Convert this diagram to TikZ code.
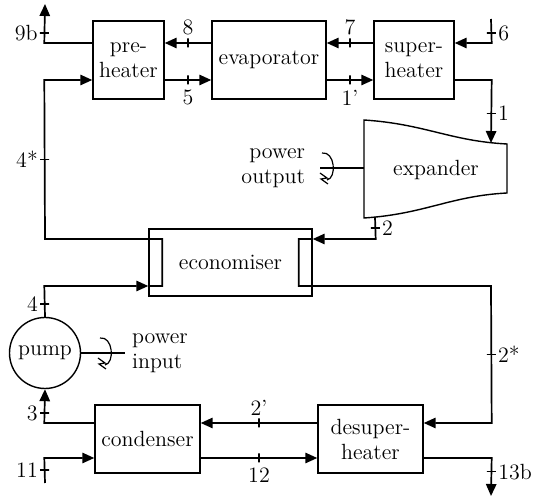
\documentclass[tikz,border=0pt]{standalone}
\usepackage{tikz}
\usetikzlibrary{arrows.meta,positioning,calc}
\newcommand{\spin}[1]{%
  \draw[line width=0.6pt, shift={(#1)}] (-4,-15) .. controls (9,-17) and (11,10) .. (1,12)
    (-6,5) -- (1,10) -- (-5,11) -- (2,16);}

\begin{document}
\begin{tikzpicture}[
    x=0.5pt, y=-0.5pt,
    font=\fontsize{11}{12.5}\selectfont,
    unit/.style={draw, line width=0.7pt, align=center, inner sep=1pt},
    flow/.style={line width=0.85pt, -{Triangle[length=6pt,width=5.2pt]}},
    pipe/.style={line width=0.85pt},
    vtick/.style={draw, line width=0.8pt, inner sep=0pt, minimum width=0pt, minimum height=4.5pt},
    htick/.style={draw, line width=0.8pt, inner sep=0pt, minimum width=4.5pt, minimum height=0pt},
    lbl/.style={inner sep=1pt},
]
    \useasboundingbox (0,0) rectangle (537,497);

    % Heat exchangers
    \node[unit, minimum width=35.5pt, minimum height=39pt] (pre) at (128.5,60) {pre-\\heater};
    \node[unit, minimum width=57pt, minimum height=39pt] (evap) at (269,60) {evaporator};
    \node[unit, minimum width=40pt, minimum height=39pt] (sup) at (414,60) {super-\\heater};
    \node[unit, minimum width=81.5pt, minimum height=33.5pt] (eco) at (230.5,262.5) {economiser};
    \node[unit, minimum width=52.5pt, minimum height=34pt] (cond) at (147.5,439) {condenser};
    \node[unit, minimum width=52.5pt, minimum height=34pt] (des) at (370.5,439) {desuper-\\heater};

    % Pump
    \node[unit, circle, minimum size=35.5pt, inner sep=0pt] (pump) at (45,353) {pump};

    % Expander
    \draw[line width=0.7pt] (364,120) .. controls (425,124) and (450,141) .. (507,144)
        -- (507,193) .. controls (450,196) and (425,214) .. (364,218) -- cycle;
    \node (exp) at (436,170) {expander};
    \coordinate (exp-in) at (491,143);
    \coordinate (exp-out) at (375,217);
    \coordinate (exp-shaft) at (364,168);

    % Free ends and corners
    \coordinate (in6) at (491,19);
    \coordinate (out9b) at (45,4);
    \coordinate (c4s) at (45,239);
    \coordinate (c2s) at (491,286);
    \coordinate (in11) at (45,483);
    \coordinate (out13b) at (491,496);
    \coordinate (pin) at (125,353);
    \coordinate (pout) at (320,168);

    % Hot side
    \draw[flow] (in6) -- node[htick,pos=.58]{} node[lbl,right=2pt,pos=.6]{6}
        ($(sup.east)+(37,-17)$) -- ($(sup.east)+(0,-17)$);
    \draw[flow] ($(sup.west)+(0,-17)$) -- node[vtick]{} node[lbl,above=2.5pt]{7} ($(evap.east)+(0,-17)$);
    \draw[flow] ($(evap.west)+(0,-17)$) -- node[vtick]{} node[lbl,above=2.5pt]{8} ($(pre.east)+(0,-17)$);
    \draw[flow] ($(pre.west)+(0,-17)$) -- ($(pre.west)+(-48,-17)$)
        -- node[htick,pos=.26]{} node[lbl,left=2pt,pos=.26]{9b} (out9b);

    % Working fluid
    \draw[flow] ($(pre.east)+(0,20)$) -- node[vtick]{} node[lbl,below=3.5pt]{5} ($(evap.west)+(0,20)$);
    \draw[flow] ($(evap.east)+(0,20)$) -- node[vtick]{} node[lbl,below=3.5pt]{1'} ($(sup.west)+(0,20)$);
    \draw[flow] ($(sup.east)+(0,20)$) -- ($(sup.east)+(37,20)$)
        -- node[htick,pos=.53]{} node[lbl,right=2pt,pos=.53]{1} (exp-in);
    \draw[flow] (exp-out) -- node[htick]{} node[lbl,right=2pt]{2}
        ($(eco.east)+(63,-23.5)$) -- ($(eco.east)+(0,-23.5)$);
    \draw[flow] ($(eco.east)+(0,-23.5)$) -- ++(-14,0) -- ++(0,47) -- (c2s)
        -- node[htick]{} node[lbl,right=2pt]{2*} ($(des.east)+(68,-16)$) -- ($(des.east)+(0,-16)$);
    \draw[flow] ($(des.west)+(0,-16)$) -- node[vtick]{} node[lbl,above=2.5pt]{2'} ($(cond.east)+(0,-16)$);
    \draw[flow] ($(cond.west)+(0,-16)$) -- ($(cond.west)+(-50,-16)$)
        -- node[htick,pos=.29]{} node[lbl,left=2pt,pos=.29]{3} (pump.south);
    \draw[flow] (pump.north) -- node[htick,pos=.42]{} node[lbl,left=2pt,pos=.42]{4}
        ($(eco.west)+(-104,23.5)$) -- ($(eco.west)+(0,23.5)$);
    \draw[flow] ($(eco.west)+(0,23.5)$) -- ++(14,0) -- ++(0,-47) -- (c4s)
        -- node[htick]{} node[lbl,left=2pt]{4*} ($(pre.west)+(-48,20)$) -- ($(pre.west)+(0,20)$);

    % Cooling side
    \draw[flow] (in11) -- node[htick,pos=.52]{} node[lbl,left=2pt,pos=.52]{11}
        ($(cond.west)+(-50,19)$) -- ($(cond.west)+(0,19)$);
    \draw[flow] ($(cond.east)+(0,19)$) -- node[vtick]{} node[lbl,below=3.5pt]{12} ($(des.west)+(0,19)$);
    \draw[flow] ($(des.east)+(0,19)$) -- ($(des.east)+(68,19)$)
        -- node[htick,pos=.36]{} node[lbl,right=2pt,pos=.36]{13b} (out13b);

    % Shafts
    \draw[pipe] (pump.east) -- (pin);
    \spin{104,353}
    \node[anchor=west, align=left] (pwin) at (pin) {power\\input};
    \draw[pipe] (pout) -- (exp-shaft);
    \spin{326,168}
    \node[anchor=east, align=right] (pwout) at (312,168) {power\\output};
\end{tikzpicture}
\end{document}
